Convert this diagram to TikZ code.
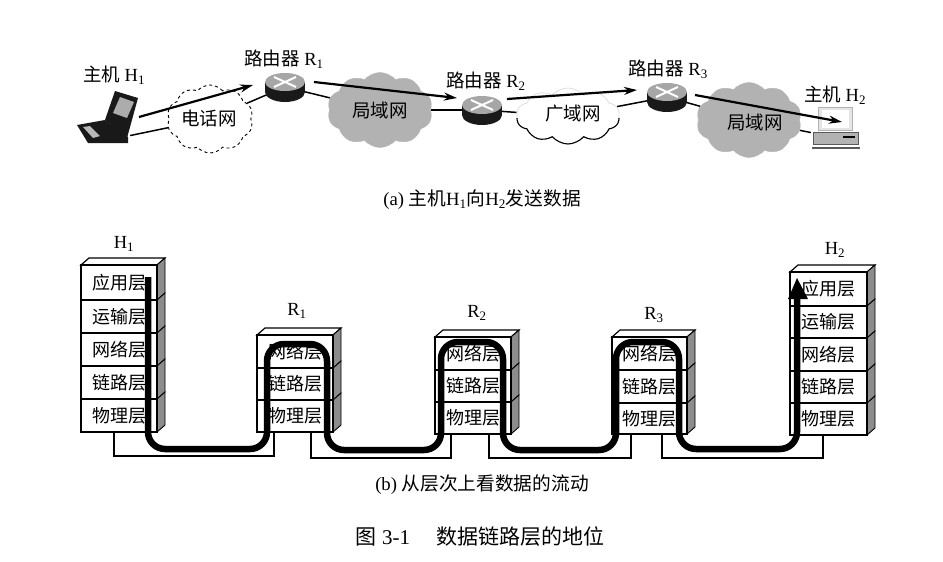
\documentclass[tikz,border=0pt]{standalone}
\usepackage{fontspec}
\setmainfont{Liberation Serif}
\newfontfamily\cjk{Noto Sans CJK SC}
\usetikzlibrary{shapes.symbols,shapes.geometric,arrows.meta,backgrounds,calc}
\newcommand{\zh}[1]{{\cjk #1}}
\definecolor{cloudgray}{gray}{0.70}
\definecolor{sidegray}{gray}{0.55}
\tikzset{
  labeltext/.style={inner sep=0pt,font=\fontsize{18.5}{18.5}\selectfont},
  captext/.style={inner sep=0pt,font=\fontsize{18.7}{18.7}\selectfont},
  figtext/.style={inner sep=0pt,font=\fontsize{21}{21}\selectfont},
  cloudbase/.style={cloud,cloud puffs=10,cloud puff arc=100,inner sep=0pt,aspect=1.4},
  lancloud/.style={cloudbase,fill=cloudgray,draw=cloudgray,minimum width=105pt,minimum height=75pt},
  link/.style={line width=1.5pt},
  flow/.style={line width=2.2pt,-{Stealth[length=13pt,width=8pt]}},
  layerbox/.style={draw,line width=1.2pt,fill=white,inner sep=0pt,font=\fontsize{18}{18}\selectfont\cjk},
  wire/.style={line width=1.9pt},
  thick flow/.style={line width=6.5pt,rounded corners=17pt},
  routermark/.style={ellipse,minimum width=40pt,minimum height=30pt,inner sep=0pt}
}
% name, x0, ytop, x1, ybottom, text
\newcommand{\layer}[6]{%
  \fill[sidegray] (#4,#3)--(#4+8,#3-7)--(#4+8,#5-7)--(#4,#5)--cycle;
  \draw[line width=0.9pt] (#4,#3)--(#4+8,#3-7)--(#4+8,#5-7)--(#4,#5);
  \pgfmathsetmacro{\lw}{#4-#2}\pgfmathsetmacro{\lh}{#5-#3}
  \node[layerbox,minimum width=\lw pt,minimum height=\lh pt] (#1) at ({(#2+#4)/2},{(#3+#5)/2}) {#6};
}
\newcommand{\stacktop}[3]{%
  \draw[line width=1.2pt,fill=white] (#1,#2)--(#1+8,#2-7)--(#3+8,#2-7)--(#3,#2)--cycle;
}
\newcommand{\router}[3]{%
  \node[routermark] (#1) at (#2,#3) {};
  \fill[black!90] (#2,#3+5) ellipse (20pt and 10pt);
  \fill[black!90] (#2-20,#3-4) rectangle (#2+20,#3+5);
  \fill[gray!70] (#2,#3-5) ellipse (20pt and 9pt);
  \draw[white,line width=2pt] (#2-11,#3-10)--(#2+11,#3) (#2+11,#3-10)--(#2-11,#3);
}
\begin{document}
\begin{tikzpicture}[x=1pt,y=-1pt]
\useasboundingbox (0,0) rectangle (943,562);

% clouds
\node[cloudbase,draw,dashed,fill=white,line width=0.9pt,minimum width=86pt,minimum height=68pt] (c1) at (210,119) {};
\node[lancloud] (c2) at (380,110) {};
\node[cloudbase,draw=gray!25,fill=white,line width=0.8pt,minimum width=103pt,minimum height=56pt] (c3) at (568,116) {};
\begin{scope}
  \clip (500,118) rectangle (640,150);
  \node[cloudbase,draw,line width=1.1pt,minimum width=103pt,minimum height=56pt] at (568,116) {};
\end{scope}
\node[lancloud] (c4) at (749,120) {};
\node[labeltext] (t1) at (209,118) {\zh{电话网}};
\node[labeltext] (t2) at (380,110) {\zh{局域网}};
\node[labeltext] (t3) at (573,114) {\zh{广域网}};
\node[labeltext] (t4) at (755,122) {\zh{局域网}};

% routers
\router{r1}{285}{87}
\router{r2}{482}{110}
\router{r3}{667}{97}

% laptop
\node[inner sep=0pt,minimum size=4pt] (host1) at (128,136) {};
\fill[black!90] (115,91)--(138,98)--(127,138)--(105,120)--cycle;
\fill[gray!65] (120,97)--(134,102)--(127,118)--(113,113)--cycle;
\fill[black!90] (77,125)--(105,120)--(128,137)--(128,143)--(88,143)--cycle;
\fill[gray!55] (83,127)--(90,126)--(100,136)--(93,138)--cycle;

% desktop
\node[inner sep=0pt,minimum size=4pt] (host2) at (813,133) {};
\draw[line width=1pt,draw=gray!60,fill=gray!20] (818,107) rectangle (852,130);
\fill[white] (822,110) rectangle (849,128);
\draw[line width=0.8pt,draw=gray!70!black,fill=gray!60] (813,132) rectangle (858,144);
\fill[black] (843,136) rectangle (855,138);
\draw[line width=1.8pt,gray!70!black] (812,148)--(860,148);

% links behind everything
\begin{pgfonlayer}{background}
  \draw[link] (host1) -- (c1);
  \draw[link] (c1) -- (r1);
  \draw[link] (r1) -- (c2);
  \draw[link] (c2) -- (r2);
  \draw[link] (r2) -- (c3);
  \draw[link] (c3) -- (r3);
  \draw[link] (r3) -- (c4);
  \draw[link] (c4) -- (host2);
\end{pgfonlayer}

% data flow arrows
\coordinate (a1s) at (139,117); \coordinate (a1e) at (253,85);
\coordinate (a2s) at (314,82);  \coordinate (a2e) at (457,98);
\coordinate (a3s) at (507,99);  \coordinate (a3e) at (637,90);
\coordinate (a4s) at (695,95);  \coordinate (a4e) at (842,122);
\draw[flow] (a1s) -- (a1e);
\draw[flow] (a2s) -- (a2e);
\draw[flow] (a3s) -- (a3e);
\draw[flow] (a4s) -- (a4e);

% labels (a)
\node[labeltext] (l1) at (114,75) {\zh{主机} H\textsubscript{1}};
\node[labeltext] (l2) at (284,59) {\zh{路由器} R\textsubscript{1}};
\node[labeltext] (l3) at (486,81) {\zh{路由器} R\textsubscript{2}};
\node[labeltext] (l4) at (668,69) {\zh{路由器} R\textsubscript{3}};
\node[labeltext] (l5) at (835,95) {\zh{主机} H\textsubscript{2}};
\node[captext] (capa) at (482,200) {(a) \zh{主机}H\textsubscript{1}\zh{向}H\textsubscript{2}\zh{发送数据}};

% stacks
\stacktop{81}{265}{157}
\layer{h1a}{81}{265}{157}{300}{应用层}
\layer{h1t}{81}{300}{157}{333}{运输层}
\layer{h1n}{81}{333}{157}{366}{网络层}
\layer{h1l}{81}{366}{157}{399}{链路层}
\layer{h1p}{81}{399}{157}{432}{物理层}

\stacktop{257}{335}{333}
\layer{r1n}{257}{335}{333}{368}{网络层}
\layer{r1l}{257}{368}{333}{400}{链路层}
\layer{r1p}{257}{400}{333}{432}{物理层}

\stacktop{435}{337}{511}
\layer{r2n}{435}{337}{511}{370}{网络层}
\layer{r2l}{435}{370}{511}{402}{链路层}
\layer{r2p}{435}{402}{511}{434}{物理层}

\stacktop{612}{337}{687}
\layer{r3n}{612}{337}{687}{370}{网络层}
\layer{r3l}{612}{370}{687}{403}{链路层}
\layer{r3p}{612}{403}{687}{434}{物理层}

\stacktop{790}{272}{867}
\layer{h2a}{790}{272}{867}{306}{应用层}
\layer{h2t}{790}{306}{867}{338}{运输层}
\layer{h2n}{790}{338}{867}{371}{网络层}
\layer{h2l}{790}{371}{867}{403}{链路层}
\layer{h2p}{790}{403}{867}{435}{物理层}

\node[labeltext] (n1) at (124,244) {H\textsubscript{1}};
\node[labeltext] (n2) at (297,311) {R\textsubscript{1}};
\node[labeltext] (n3) at (477,313) {R\textsubscript{2}};
\node[labeltext] (n4) at (654,315) {R\textsubscript{3}};
\node[labeltext] (n5) at (835,250) {H\textsubscript{2}};

% physical wires
\coordinate (w1a) at ($(h1p.south west)+(34,0)$);
\coordinate (w1b) at ($(r1p.south west)+(18,0)$);
\coordinate (w2a) at ($(r1p.south west)+(55,0)$);
\coordinate (w2b) at ($(r2p.south west)+(17,0)$);
\coordinate (w3a) at ($(r2p.south west)+(55,0)$);
\coordinate (w3b) at ($(r3p.south west)+(20,0)$);
\coordinate (w4a) at ($(r3p.south west)+(51,0)$);
\coordinate (w4b) at ($(h2p.south west)+(34,0)$);
\draw[wire] (w1a) -- ++(0,23) -| (w1b);
\draw[wire] (w2a) -- ++(0,25) -| (w2b);
\draw[wire] (w3a) -- ++(0,23) -| (w3b);
\draw[wire] (w4a) -- ++(0,23) -| (w4b);

% thick data path
\coordinate (f0) at (148,277);
\coordinate (f1) at (148,449);
\coordinate (f2) at (267,449);
\coordinate (f3) at (267,344);
\coordinate (f4) at (327,344);
\coordinate (f5) at (327,450);
\coordinate (f6) at (441,450);
\coordinate (f7) at (441,342);
\coordinate (f8) at (503,342);
\coordinate (f9) at (503,450);
\coordinate (f10) at (616,450);
\coordinate (f11) at (616,342);
\coordinate (f12) at (679,342);
\coordinate (f13) at (679,449);
\coordinate (f14) at (797,449);
\coordinate (f15) at (797,297);
\draw[thick flow] (f0)--(f1)--(f2)--(f3)--(f4)--(f5)--(f6)--(f7)--(f8)--(f9)--(f10)--(f11)--(f12)--(f13)--(f14)--(f15);
\coordinate (tipl) at (788,299); \coordinate (tipr) at (808,299); \coordinate (tip) at (797,278);
\fill (tipl)--(tip)--(tipr)--cycle;

% captions
\node[captext] (capb) at (482,485) {(b) \zh{从层次上看数据的流动}};
\node[figtext] (fig) at (480,537) {\zh{图} 3-1\hspace{26pt}\zh{数据链路层的地位}};
\end{tikzpicture}
\end{document}
